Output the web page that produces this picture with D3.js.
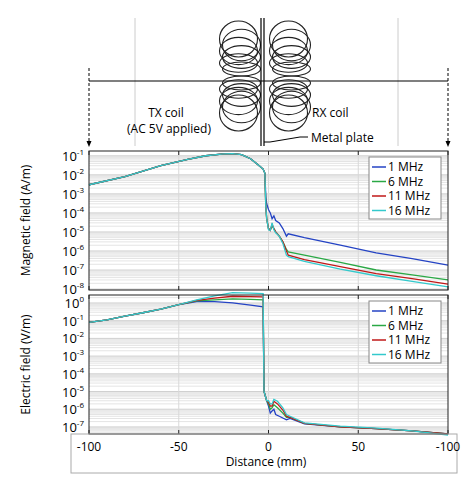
<!DOCTYPE html>
<html><head><meta charset="utf-8">
<script src="https://cdn.jsdelivr.net/npm/d3@7"></script>
<style>body{margin:0;background:#fff;font-family:"Open Sans",sans-serif}</style>
</head><body><svg id="c" width="473" height="486"></svg>
<script>
const freqs = ['1 MHz', '6 MHz', '11 MHz', '16 MHz'];
const colors = ['#2443c4', '#2aa845', '#c01818', '#33c9cc'];

// magnetic field (A/m): shared left part then per-frequency tail
const hLeft = [[-100,3e-3],[-80,8e-3],[-60,3e-2],[-45,6.5e-2],[-35,1e-1],[-25,1.25e-1],[-20,1.3e-1],[-15,1.15e-1],[-10,7e-2],[-6,3.5e-2],[-3,2e-2],[-2,1.2e-2]];
const h1 = [[-1.5,7e-4],[-1,3e-4],[0,1.5e-4],[1,1e-4],[2,5e-5],[3,7e-5],[4,4e-5],[6,3e-5],[8,1.5e-5],[10,6e-6],[11,8e-6],[20,5e-6],[40,2e-6],[60,8e-7],[80,4e-7],[100,1.8e-7]];
const h6 = [[-1.5,2e-4],[-1,5e-5],[0,1.5e-5],[1,1.3e-5],[2,2e-5],[3,1.5e-5],[4,1e-5],[6,6e-6],[8,3e-6],[10,1.2e-6],[11,9e-7],[20,6e-7],[40,2.5e-7],[60,1e-7],[80,5.5e-8],[100,3e-8]];
const h11 = [[-1.5,2e-4],[-1,5e-5],[0,1.5e-5],[1,1.2e-5],[2,2.5e-5],[3,1.5e-5],[4,1e-5],[6,6e-6],[8,3e-6],[10,1e-6],[11,6e-7],[20,3.5e-7],[40,1.5e-7],[60,6.5e-8],[80,3.5e-8],[100,1.8e-8]];
const h16 = [[-1.5,2e-4],[-1,5e-5],[0,1.3e-5],[1,1.2e-5],[2,3e-5],[3,1.3e-5],[4,9e-6],[6,6e-6],[8,2.5e-6],[10,6e-7],[11,5e-7],[20,2.8e-7],[40,1.1e-7],[60,5e-8],[80,2.5e-8],[100,1.3e-8]];

// electric field (V/m)
const eLeft = [[-100,8e-2],[-90,1.1e-1],[-80,1.8e-1],[-70,2.8e-1],[-60,4.5e-1],[-50,8e-1]];
const e1 = [[-40,1.2],[-30,1.2],[-20,1],[-10,0.75],[-3,0.6],[-2.5,1e-5],[-1,3e-6],[0,1.5e-6],[1,6e-7],[2,8e-7],[3,1e-6],[4,5e-7],[6,4e-7],[10,2.5e-7],[12,3e-7],[20,1.5e-7],[40,1e-7],[60,8e-8],[80,6e-8],[100,4e-8]];
const e6 = [[-40,1.3],[-30,1.5],[-20,1.7],[-10,1.6],[-3,1.5],[-2.5,1e-5],[-1,3e-6],[0,2e-6],[1,1e-6],[2,1.2e-6],[3,1.8e-6],[5,1.2e-6],[8,6e-7],[10,3.5e-7],[12,3.5e-7],[20,1.6e-7],[40,1e-7],[60,8e-8],[80,6e-8],[100,4e-8]];
const e11 = [[-40,1.4],[-30,1.9],[-20,2.4],[-10,2.3],[-3,2.2],[-2.5,1e-5],[-1,3e-6],[0,2.5e-6],[1,1.5e-6],[2,1.5e-6],[3,2.8e-6],[5,2e-6],[8,9e-7],[10,4e-7],[12,3.5e-7],[20,1.6e-7],[40,1e-7],[60,8e-8],[80,6e-8],[100,4e-8]];
const e16 = [[-40,1.5],[-30,2.5],[-20,3.8],[-10,3.6],[-3,3.4],[-2.5,1e-5],[-1,3e-6],[0,3e-6],[1,2e-6],[2,2e-6],[3,3.6e-6],[5,2.8e-6],[8,1.2e-6],[10,5e-7],[12,4e-7],[20,1.7e-7],[40,1.1e-7],[60,8.5e-8],[80,6e-8],[100,3.5e-8]];

const xTicks = [-100, -50, 0, 50, 100];
const xTickLabels = ['-100', '-50', '0', '50', '-100'];
const hExps = [-8, -7, -6, -5, -4, -3, -2, -1];
const eExps = [-7, -6, -5, -4, -3, -2, -1, 0];

const svg = d3.select('#c');
const x = d3.scaleLinear().domain([-100, 100]).range([89, 448]);

// ---- schematic ----
const g0 = svg.append('g');
[135, 398].forEach(px => g0.append('line').attr('x1', px).attr('x2', px).attr('y1', 18).attr('y2', 146).attr('stroke', '#ccc'));
g0.append('line').attr('x1', 89).attr('x2', 448).attr('y1', 81).attr('y2', 81).attr('stroke', '#000').attr('stroke-width', 1.2);
[89, 448].forEach(px => {
  g0.append('line').attr('x1', px).attr('x2', px).attr('y1', 68).attr('y2', 143).attr('stroke', '#000').attr('stroke-dasharray', '3,2');
  g0.append('path').attr('d', `M${px-2.5},141 L${px+2.5},141 L${px},147Z`).attr('fill', '#000');
});
// coils: stacked rings
[[240, 20, 1], [290, 20, 1], [240, 132, -1], [290, 132, -1]].forEach(([cx, edge, dir]) => {
  for (let i = 0; i < 6; i++) {
    const cy = edge + dir * (19 + i * 6);
    g0.append('ellipse').attr('cx', cx + (i % 2 ? 1.5 : -1.5)).attr('cy', cy)
      .attr('rx', 19).attr('ry', Math.max(6, 18 - i * 2.2))
      .attr('fill', 'none').attr('stroke', '#222').attr('stroke-width', 1.1);
  }
});
[261, 264].forEach(px => g0.append('line').attr('x1', px).attr('x2', px).attr('y1', 18).attr('y2', 146).attr('stroke', '#000').attr('stroke-width', 1.2));
g0.append('text').attr('x', 166).attr('y', 117).attr('text-anchor', 'middle').attr('font-size', 12).text('TX coil');
g0.append('text').attr('x', 169).attr('y', 133).attr('text-anchor', 'middle').attr('font-size', 12).text('(AC 5V applied)');
g0.append('text').attr('x', 312).attr('y', 117).attr('font-size', 12).text('RX coil');
g0.append('path').attr('d', 'M264,142 L270,142 L300,137 L308,137').attr('fill', 'none').attr('stroke', '#000');
g0.append('text').attr('x', 311).attr('y', 142).attr('font-size', 12).text('Metal plate');

// ---- panels ----
function panel(top, bottom, domain, exps, series, label) {
  const y = d3.scaleLog().domain(domain).range([bottom, top]);
  const g = svg.append('g');
  exps.concat([exps[0] - 1]).forEach(e => {
    for (let m = 2; m < 10; m++) {
      const v = m * Math.pow(10, e);
      if (v > domain[0] && v < domain[1])
        g.append('line').attr('x1', 89).attr('x2', 448).attr('y1', y(v)).attr('y2', y(v)).attr('stroke', '#e4e4e4');
    }
  });
  exps.forEach(e => g.append('line').attr('x1', 89).attr('x2', 448).attr('y1', y(Math.pow(10, e))).attr('y2', y(Math.pow(10, e))).attr('stroke', '#d0d0d0'));
  xTicks.slice(1, 4).forEach(t => g.append('line').attr('x1', x(t)).attr('x2', x(t)).attr('y1', top).attr('y2', bottom).attr('stroke', '#d8d8d8'));
  const line = d3.line().x(d => x(d[0])).y(d => y(d[1]));
  series.forEach((s, i) => g.append('path').datum(s).attr('d', line).attr('fill', 'none').attr('stroke', colors[i]).attr('stroke-width', 1.3));
  g.append('rect').attr('x', 89).attr('y', top).attr('width', 359).attr('height', bottom - top).attr('fill', 'none').attr('stroke', '#222');
  xTicks.forEach(t => {
    g.append('line').attr('x1', x(t)).attr('x2', x(t)).attr('y1', bottom).attr('y2', bottom - 4).attr('stroke', '#222');
    g.append('line').attr('x1', x(t)).attr('x2', x(t)).attr('y1', top).attr('y2', top + 4).attr('stroke', '#222');
  });
  exps.forEach(e => {
    const t = g.append('text').attr('x', 84).attr('y', y(Math.pow(10, e)) + 5).attr('text-anchor', 'end').attr('font-size', 13);
    t.append('tspan').text('10');
    t.append('tspan').attr('dy', -6).attr('font-size', 8).text(e);
  });
  g.append('text').attr('transform', `translate(30,${(top + bottom) / 2}) rotate(-90)`).attr('text-anchor', 'middle').attr('font-size', 12).text(label);
  // legend
  const lx = 369, ly = top + 6;
  g.append('rect').attr('x', lx).attr('y', ly).attr('width', 72).attr('height', 62).attr('fill', '#fff').attr('stroke', '#888');
  freqs.forEach((f, i) => {
    const yy = ly + 10 + i * 14.5;
    g.append('line').attr('x1', lx + 3).attr('x2', lx + 17).attr('y1', yy).attr('y2', yy).attr('stroke', colors[i]).attr('stroke-width', 1.5);
    g.append('text').attr('x', lx + 19).attr('y', yy + 4).attr('font-size', 12).text(f);
  });
}
panel(151, 290, [Math.pow(10, -8.05), Math.pow(10, -0.75)], hExps,
  [hLeft.concat(h1), hLeft.concat(h6), hLeft.concat(h11), hLeft.concat(h16)], 'Magnetic field (A/m)');
panel(295, 434, [Math.pow(10, -7.4), Math.pow(10, 0.45)], eExps,
  [eLeft.concat(e1), eLeft.concat(e6), eLeft.concat(e11), eLeft.concat(e16)], 'Electric field (V/m)');

// x axis box
svg.append('rect').attr('x', 71).attr('y', 434).attr('width', 386).attr('height', 39).attr('fill', 'none').attr('stroke', '#aaa');
xTicks.forEach((t, i) => svg.append('text').attr('x', x(t)).attr('y', 451).attr('text-anchor', 'middle').attr('font-size', 12).text(xTickLabels[i]));
svg.append('text').attr('x', 266).attr('y', 466).attr('text-anchor', 'middle').attr('font-size', 12).text('Distance (mm)');
</script></body></html>
